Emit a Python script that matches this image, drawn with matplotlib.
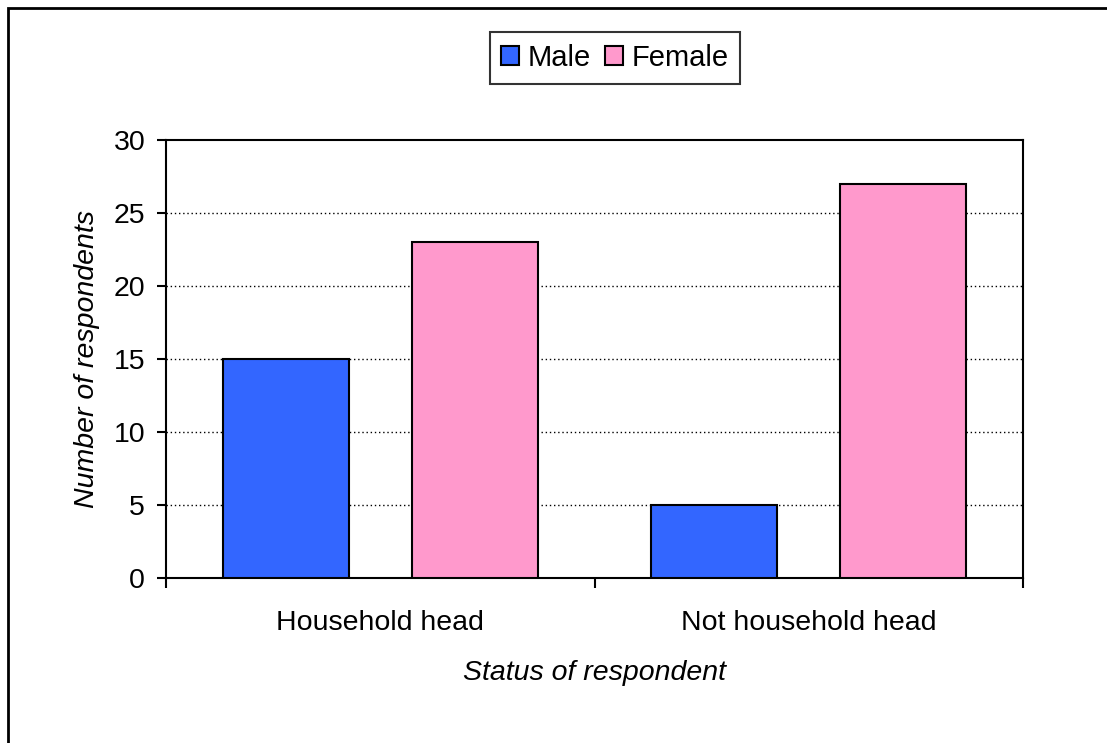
import numpy as np
import matplotlib

matplotlib.use("Agg")
import matplotlib.pyplot as plt
from matplotlib.patches import Rectangle

plt.rcParams["font.family"] = ["Liberation Sans", "DejaVu Sans"]

# data
categories = ["Household head", "Not household head"]
male = [15, 5]
female = [23, 27]
series_names = ["Male", "Female"]
colors = ["#3366FF", "#FF99CC"]

fig = plt.figure(figsize=(11.07, 7.43), dpi=100)
ax = fig.add_axes([166 / 1107, 1 - 578 / 743, (1023 - 166) / 1107, (578 - 140) / 743])

x = np.arange(len(categories))
width = 0.294
offset = 0.22
ax.bar(x - offset, male, width, color=colors[0], edgecolor="black", linewidth=1.5,
       label=series_names[0], zorder=3)
ax.bar(x + offset, female, width, color=colors[1], edgecolor="black", linewidth=1.5,
       label=series_names[1], zorder=3)

ax.set_xlim(-0.5, len(categories) - 0.5)
ax.set_ylim(0, 30)
ax.set_yticks(range(0, 31, 5))
ax.set_xticks(x)
ax.set_xticklabels(categories)
ax.set_xticks(np.arange(-0.5, len(categories)), minor=True)
ax.tick_params(axis="x", which="major", length=0, pad=23, labelsize=20.5)
ax.tick_params(axis="x", which="minor", length=7, width=1.5)
ax.tick_params(axis="y", length=6.5, width=1.5, pad=8.5, labelsize=20.5)

for y in range(5, 30, 5):
    ax.axhline(y, color="black", linestyle=(0, (1, 2)), linewidth=1, zorder=1)

for s in ax.spines.values():
    s.set_linewidth(1.5)

ax.set_ylabel("Number of respondents", fontsize=20.5, style="italic", labelpad=10)
ax.set_xlabel("Status of respondent", fontsize=20.5, style="italic", labelpad=17)

leg = fig.legend(loc="center", bbox_to_anchor=(615 / 1107, 1 - 58 / 743), ncol=2,
                 fontsize=21, frameon=True, fancybox=False, handlelength=0.6,
                 handleheight=0.6, handletextpad=0.3, columnspacing=0.5,
                 borderpad=0.4, edgecolor="black")
leg.get_frame().set_linewidth(1.5)

# outer chart border (top and left visible)
fig.patches.append(Rectangle((8 / 1107, -0.1), 1.2, 1 - 8 / 743 + 0.1,
                             transform=fig.transFigure, fill=False,
                             edgecolor="black", linewidth=2))

fig.savefig("out.png", dpi=100)
